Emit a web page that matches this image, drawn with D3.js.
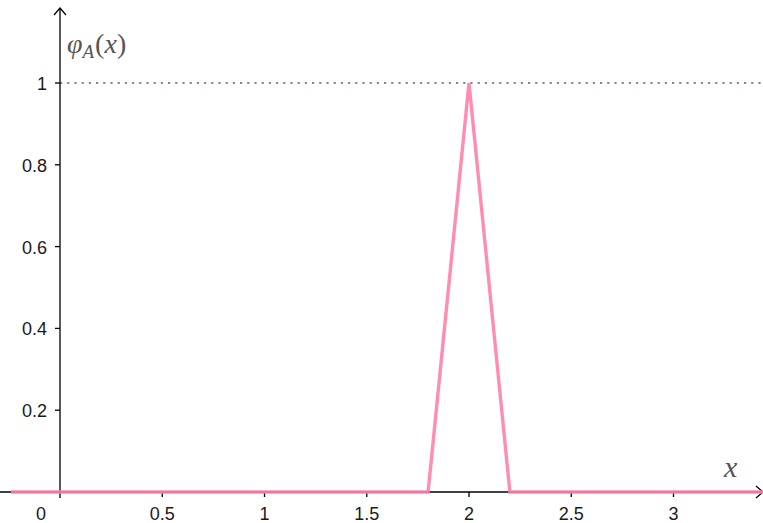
<!DOCTYPE html>
<html><head><meta charset="utf-8">
<script src="https://cdn.jsdelivr.net/npm/d3@7"></script>
<style>body{margin:0;background:#fff}svg{display:block}</style>
</head><body>
<script>
const xTicks = [0, 0.5, 1, 1.5, 2, 2.5, 3];
const yTicks = [0.2, 0.4, 0.6, 0.8, 1];
const curveX = [-0.24, 1.8, 2, 2.2, 3.44];
const curveY = [0, 0, 1, 0, 0];
const refLevel = 1;

const W = 763, H = 523;
const x = d3.scaleLinear().domain([0, 1]).range([60, 264.5]);
const y = d3.scaleLinear().domain([0, 1]).range([492, 83]);

const svg = d3.select("body").append("svg").attr("width", W).attr("height", H);

// dotted reference line
svg.append("line")
  .attr("x1", x(0)).attr("x2", W)
  .attr("y1", y(refLevel)).attr("y2", y(refLevel))
  .attr("stroke", "#9a8080").attr("stroke-width", 2.2)
  .attr("stroke-dasharray", "2.2,5");

// axes
svg.append("line").attr("x1", 0).attr("x2", W - 1).attr("y1", y(0)).attr("y2", y(0))
  .attr("stroke", "#000").attr("stroke-width", 1.3);
svg.append("line").attr("x1", x(0)).attr("x2", x(0)).attr("y1", 8).attr("y2", y(0) + 6)
  .attr("stroke", "#000").attr("stroke-width", 1.3);
// arrows
svg.append("path").attr("d", `M${x(0)-6},${15} L${x(0)},${8} L${x(0)+6},${15}`)
  .attr("fill", "none").attr("stroke", "#000").attr("stroke-width", 1.3);
svg.append("path").attr("d", `M${W-7},${y(0)-6} L${W},${y(0)} L${W-7},${y(0)+6}`)
  .attr("fill", "none").attr("stroke", "#000").attr("stroke-width", 1.3);

// x ticks
svg.selectAll(".xt").data(xTicks.filter(d => d !== 0)).join("line")
  .attr("x1", d => x(d)).attr("x2", d => x(d))
  .attr("y1", y(0)).attr("y2", y(0) + 5)
  .attr("stroke", "#000").attr("stroke-width", 1.3);
svg.selectAll(".xl").data(xTicks).join("text")
  .attr("x", d => d === 0 ? x(0) - 19 : x(d))
  .attr("y", y(0) + 28)
  .attr("text-anchor", "middle")
  .attr("font-family", "Liberation Sans, Arial, sans-serif")
  .attr("font-size", 18).attr("fill", "#1a1a1a")
  .text(d => String(d));

// y ticks
svg.selectAll(".yt").data(yTicks).join("line")
  .attr("x1", x(0) - 5).attr("x2", x(0))
  .attr("y1", d => y(d)).attr("y2", d => y(d))
  .attr("stroke", "#000").attr("stroke-width", 1.3);
svg.selectAll(".yl").data(yTicks).join("text")
  .attr("x", x(0) - 13).attr("y", d => y(d) + 7)
  .attr("text-anchor", "end")
  .attr("font-family", "Liberation Sans, Arial, sans-serif")
  .attr("font-size", 18).attr("fill", "#1a1a1a")
  .text(d => String(d));

// curve
const pts = curveX.map((d, i) => [d, curveY[i]]);
svg.append("path")
  .attr("d", d3.line().x(d => x(d[0])).y(d => y(d[1]))(pts))
  .attr("fill", "none").attr("stroke", "#ff7fa8").attr("stroke-opacity", 0.9)
  .attr("stroke-width", 3.4).attr("stroke-linejoin", "miter");

// labels
const lab = svg.append("text").attr("x", 67).attr("y", 53)
  .attr("font-family", "Liberation Serif, DejaVu Serif, serif")
  .attr("font-style", "italic").attr("font-size", 28).attr("fill", "#555");
lab.append("tspan").text("φ");
lab.append("tspan").attr("font-size", 19).attr("dy", 5).text("A");
lab.append("tspan").attr("dy", -5).attr("font-style", "normal").attr("dx", 1).text("(");
lab.append("tspan").text("x");
lab.append("tspan").attr("font-style", "normal").text(")");

svg.append("text").attr("x", 724).attr("y", 477)
  .attr("font-family", "Liberation Serif, DejaVu Serif, serif")
  .attr("font-style", "italic").attr("font-size", 30).attr("fill", "#555")
  .text("x");
</script>
</body></html>
